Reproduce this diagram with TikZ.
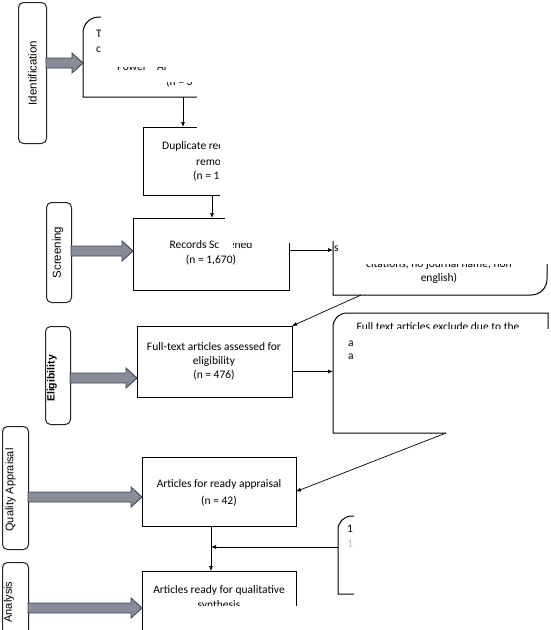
\documentclass[tikz,border=0pt]{standalone}
\usepackage{fontspec}
\setmainfont{Carlito}
\newfontfamily\arialf{Liberation Sans}
\usetikzlibrary{arrows.meta,calc}
\definecolor{fatfill}{RGB}{136,140,148}
\definecolor{fatline}{RGB}{60,70,100}
\definecolor{phaseline}{RGB}{35,35,35}
\newcommand\fatarrow[3]{\draw[fat] (#1,{#3-5}) -- ({#2-11},{#3-5}) -- ({#2-11},{#3-10}) -- (#2,#3) -- ({#2-11},{#3+10}) -- ({#2-11},{#3+5}) -- (#1,{#3+5}) -- cycle;}
\begin{document}
\begin{tikzpicture}[x=1pt,y=-1pt,
 phase/.style={draw=phaseline, line width=1pt, rounded corners=5pt, inner sep=0pt, anchor=north west},
 phasetext/.style={rotate=90, font=\arialf\fontsize{11.5}{13}\selectfont, inner sep=0pt},
 box/.style={anchor=north west, inner sep=0pt, outer sep=0pt},
 boxline/.style={line width=1pt, draw=black},
 txt/.style={font=\fontsize{11.5}{14}\selectfont, inner sep=0pt, align=center},
 frag/.style={font=\fontsize{11.5}{14}\selectfont, inner sep=0pt, anchor=west},
 conn/.style={line width=0.7pt, -{Latex[length=5pt,width=4pt]}},
 fat/.style={draw=fatline, fill=fatfill, line width=0.9pt, line join=miter},
 cover/.style={fill=white, draw=none},
]
\fill[white] (0,0) rectangle (550,630);
\useasboundingbox (0,0) rectangle (550,630);

% phase labels
\node[phase, minimum width=28pt, minimum height=141pt] (pid) at (18,2) {};
\node[phasetext] at (pid.center) {Identification};
\node[phase, minimum width=25pt, minimum height=100pt] (psc) at (46,202) {};
\node[phasetext] at ([xshift=-1pt]psc.center) {Screening};
\node[phase, minimum width=25pt, minimum height=98pt] (pel) at (45,326) {};
\node[phasetext, font=\arialf\bfseries\fontsize{10.5}{12}\selectfont] at ([xshift=-6pt,yshift=-3pt]pel.center) {Eligibility};
\node[phase, minimum width=26pt, minimum height=123pt] (pqa) at (2,426) {};
\node[phasetext, font=\arialf\fontsize{11}{13}\selectfont] at ([xshift=-5pt,yshift=-2pt]pqa.center) {Quality Appraisal};
\node[phase, minimum width=26pt, minimum height=100pt] (pan) at (2,562) {};
\node[phasetext, font=\arialf\fontsize{11}{13}\selectfont] at (9,602) {Analysis};

% boxes (geometry)
\node[box, minimum width=208pt, minimum height=80pt] (b1) at (83,17) {};
\node[box, minimum width=138pt, minimum height=68pt] (b2) at (143,127) {};
\node[box, minimum width=156pt, minimum height=72pt] (b3) at (133,218) {};
\node[box, minimum width=214pt, minimum height=95pt] (b4) at (333,200) {};
\node[box, minimum width=155pt, minimum height=71pt] (b5) at (137,326) {};
\node[box, minimum width=215pt, minimum height=120pt] (b6) at (333,313) {};
\node[box, minimum width=154pt, minimum height=69pt] (b7) at (142,457) {};
\node[box, minimum width=154pt, minimum height=80pt] (b8) at (142,571) {};
\node[box, minimum width=150pt, minimum height=78pt] (b9) at (338,516) {};

% borders
\draw[boxline] ([yshift=-16pt]b1.north west) .. controls ([yshift=-7pt]b1.north west) and ([xshift=7pt]b1.north west) .. ([xshift=16pt]b1.north west) -- (b1.north east) -- (b1.south east) -- (b1.south west) -- cycle;
\draw[boxline] (b2.north west) rectangle (b2.south east);
\draw[boxline] (b3.north west) rectangle (b3.south east);
\draw[boxline] (b4.north west) -- (b4.south west) -- ([xshift=-16pt]b4.south east) .. controls ([xshift=-7pt]b4.south east) and ([yshift=7pt]b4.south east) .. ([yshift=16pt]b4.south east) -- (b4.north east) -- cycle;
\draw[boxline] (b5.north west) rectangle (b5.south east);
\draw[boxline] ([yshift=-14pt]b6.north west) .. controls ([yshift=-6pt]b6.north west) and ([xshift=6pt]b6.north west) .. ([xshift=14pt]b6.north west) -- (b6.north east) -- (b6.south east) -- (b6.south west) -- cycle;
\draw[boxline] (b7.north west) rectangle (b7.south east);
\draw[boxline] (b8.north west) rectangle (b8.south east);
\draw[boxline] ([yshift=-14pt]b9.north west) .. controls ([yshift=-6pt]b9.north west) and ([xshift=6pt]b9.north west) .. ([xshift=14pt]b9.north west) -- (b9.north east) -- (b9.south east) -- (b9.south west) -- cycle;

% texts
\node[frag] at (96,34) {T};
\node[frag] at (96,50) {c};
\node[frag] at (117,67) {Power};
\node[frag] at (157,67) {Al};
\node[frag] at (166,82) {(n = 3};
\node[frag] at (162,146) {Duplicate rec};
\node[frag] at (196,162) {removed};
\node[frag] at (193,176) {(n = 1};
\node[txt, align=center] at (211,252.5) {Records Screened\\[1pt](n = 1,670)};
\node[frag] at (334,249) {s};
\node[txt] at (439,271) {citations, no journal name, non\\english)};
\node[txt] at (214,361) {Full-text articles assessed for\\eligibility\\(n = 476)};
\node[txt] at (438,327) {Full text articles exclude due to the};
\node[frag] at (348,344) {a};
\node[frag] at (348,357) {a};
\node[txt, align=center] at (219,492.5) {Articles for ready appraisal\\[3pt](n = 42)};
\node[txt] at (219,590) {Articles ready for qualitative};
\node[txt] at (219,605) {synthesis};
\node[frag] at (347,529) {1};
\node[frag, text=gray!50] at (347,544) {1};

% covers (erased parts of the source)
\fill[cover] (101,8) rectangle (300,67);
\fill[cover] (171,67) rectangle (300,73);
\fill[cover] (160,73) rectangle (300,81.5);
\fill[cover] (197,8) rectangle (300,100);
\fill[cover] (197,120) rectangle (300,139);
\fill[cover] (220,139) rectangle (300,200);
\fill[cover] (225,210) rectangle (300,243);
\fill[cover] (220,238) rectangle (233,251);
\fill[cover] (326,190) rectangle (555,241);
\fill[cover] (342,241) rectangle (555,264);
\fill[cover] (340,328.5) rectangle (555,336);
\fill[cover] (358,336) rectangle (555,430);
\fill[cover] (446,430) rectangle (555,440);
\fill[cover] (354,505) rectangle (555,600);
\fill[cover] (143.5,606) rectangle (300,640);

% fat arrows
\fatarrow{46}{83}{63}
\fatarrow{71}{133}{251}
\fatarrow{70}{137}{378}
\fatarrow{28}{142}{497}
\fatarrow{28}{142}{608}

% connectors
\draw[conn] ([xshift=-4pt]b1.south) -- ([xshift=-4pt]b1.south |- b2.north);
\draw[conn] (b2.south) -- (b2.south |- b3.north);
\draw[conn] ([yshift=4pt]b3.east) -- ([yshift=4pt]b3.east -| b4.west);
\draw[conn] ([xshift=28pt]b4.south west) -- (b5.north east);
\draw[conn] ([yshift=-10pt]b5.east) -- ([yshift=-10pt]b5.east -| b6.west);
\draw[conn] ([xshift=113pt]b6.south west) -- (b7.east);
\coordinate (vx) at ([xshift=-8pt]b7.south);
\draw[conn] (vx) -- (vx |- b8.north);
\coordinate (c9) at ([yshift=8pt]b9.west);
\draw[conn] (c9) -- (c9 -| vx);
\end{tikzpicture}
\end{document}
